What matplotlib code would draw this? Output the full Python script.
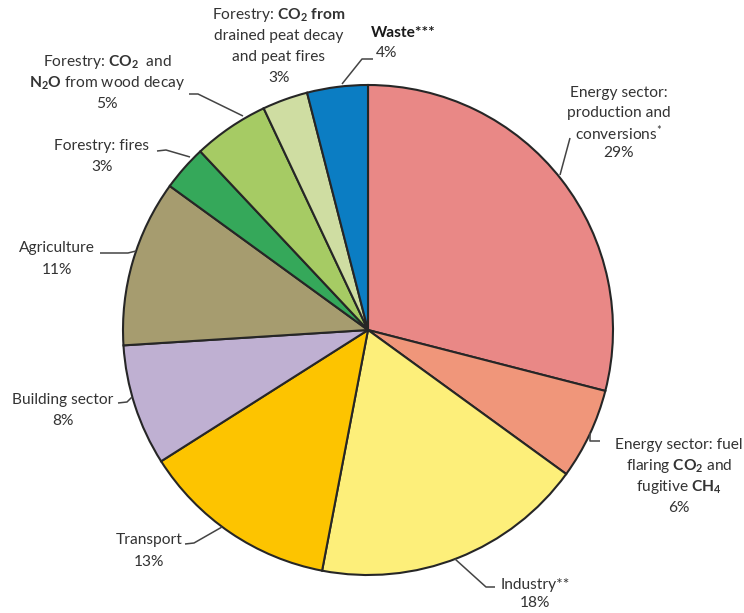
import numpy as np
import matplotlib
matplotlib.use("Agg")
import matplotlib.pyplot as plt

plt.rcParams['font.family'] = ['Lato', 'DejaVu Sans']
plt.rcParams['mathtext.fontset'] = 'custom'
plt.rcParams['mathtext.rm'] = 'Lato'
plt.rcParams['mathtext.it'] = 'Lato:italic'
plt.rcParams['mathtext.bf'] = 'Lato:bold'

# GHG emission shares by sector, clockwise from 12 o'clock
sectors = [
    'Energy production', 'Energy fuel flaring', 'Industry', 'Transport',
    'Building sector', 'Agriculture', 'Forestry: fires',
    'Forestry: CO2 and N2O', 'Forestry: peat', 'Waste',
]
shares = [29, 6, 18, 13, 8, 11, 3, 5, 3, 4]
colors = ['#E98886', '#F0967A', '#FDEF7A', '#FDC400', '#BFB0D2',
          '#A69C6F', '#35A85A', '#A6CB64', '#CFDDA2', '#0B7DC3']

# label text (the percentage line is added from shares)
label_lines = [
    ['Energy sector:', 'production and', r'conversions$^{*}$'],
    ['Energy sector: fuel', r'flaring $\mathbf{CO_2}$ and', r'fugitive $\mathbf{CH_4}$'],
    ['Industry**'],
    ['Transport'],
    ['Building sector'],
    ['Agriculture'],
    ['Forestry: fires'],
    [r'Forestry: $\mathbf{CO_2}$  and', r'$\mathbf{N_2O}$ from wood decay'],
    [r'Forestry: $\mathbf{CO_2\ from}$', 'drained peat decay', 'and peat fires'],
    ['Waste***'],
]

H = 613
FS = 11.2
# label placement in pixels: (x centre, y of first line, line step)
label_pos = [
    (619, 93, 20), (679, 445, 21), (535, 585, 18), (149, 540, 22),
    (63, 400, 21), (57, 248, 22), (102, 146, 21), (107, 62, 21),
    (279, 15, 21), (403, 33, 20),
]
# leader lines (pixel coords, y downwards)
leaders = [
    [(570, 138), (560, 175)],
    [(590, 433), (590, 441), (600, 441)],
    [(455, 559), (486, 587), (495, 587)],
    [(185, 544), (194, 543), (222, 527)],
    [(118, 403), (127, 402), (132, 397)],
    [(100, 253), (128, 253), (136, 251)],
    [(157, 151), (166, 150), (190, 157)],
    [(189, 94), (198, 94), (243, 116)],
    None,
    [(342, 84), (362, 59), (373, 59)],
]

fig = plt.figure(figsize=(7.44, 6.13), dpi=100)
ax = fig.add_axes([0, 0, 1, 1])
ax.pie(shares, colors=colors, startangle=90, counterclock=False,
       radius=245, center=(368, H - 330),
       wedgeprops=dict(edgecolor='#262626', linewidth=1.5))
ax.set_xlim(0, 744)
ax.set_ylim(0, H)
ax.set_aspect('equal')
ax.axis('off')

for i, lines in enumerate(label_lines):
    x, y0, step = label_pos[i]
    lines = lines + [f'{shares[i]}%']
    if sectors[i] == 'Waste':
        # percentage sits to the right of the leader
        ax.text(x, H - y0, lines[0], ha='center', va='center', fontsize=FS,
                fontweight='bold', color='#1a1a1a')
        ax.text(387, H - y0 - step, lines[1], ha='center', va='center',
                fontsize=FS, color='#333333')
    else:
        for j, line in enumerate(lines):
            ax.text(x, H - (y0 + j * step), line, ha='center', va='center',
                    fontsize=FS, color='#333333')
    if leaders[i] is not None:
        pts = np.array(leaders[i], dtype=float)
        ax.plot(pts[:, 0], H - pts[:, 1], color='#444444', lw=1.1,
                solid_capstyle='butt')

fig.savefig('out.png', dpi=100, facecolor='white')
